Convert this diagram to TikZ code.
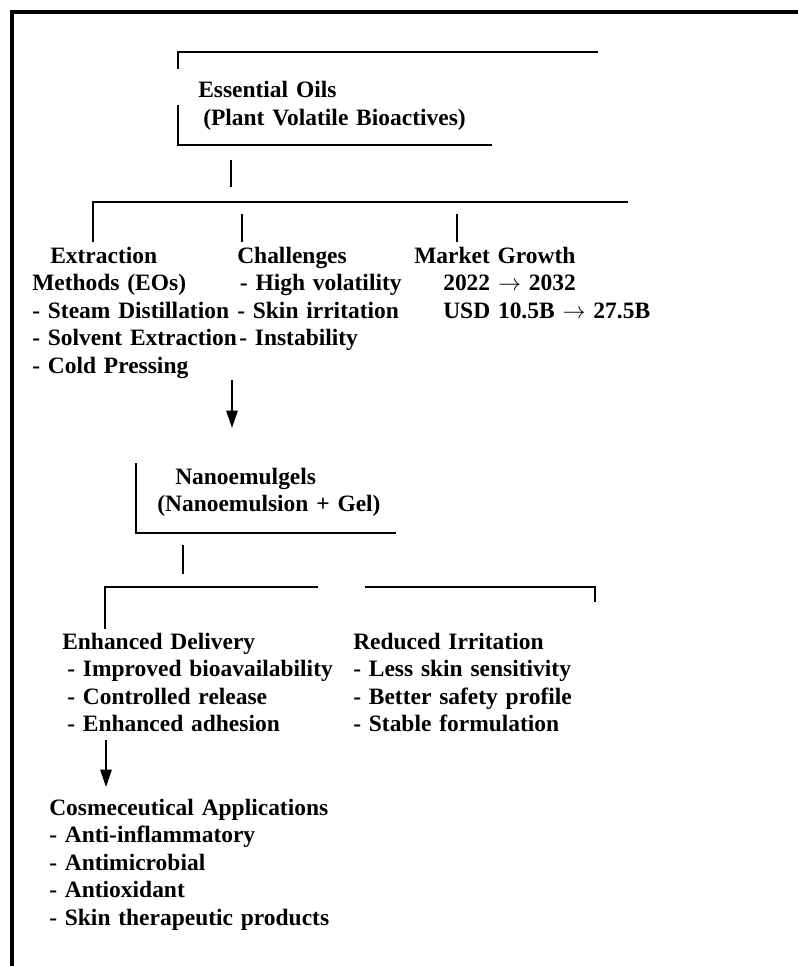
\documentclass[tikz,border=0pt]{standalone}
\usepackage{fontspec}
\setmainfont[WordSpace=0.8]{Liberation Serif}
\usetikzlibrary{arrows.meta}
\tikzset{
    txt/.style={font=\fontsize{17.6pt}{20.7pt}\selectfont\bfseries, inner sep=0pt, anchor=base west, align=left, text width=8cm},
    link/.style={line width=1.4pt},
    arrow/.style={-{Triangle[width=8.5pt,length=13pt]}, line width=1.4pt},
    frame/.style={line width=2.3pt}
}
\newcommand{\toarr}{ $\rightarrow$ }

\begin{document}
\begin{tikzpicture}[x=0.75pt, y=-0.75pt]
    \useasboundingbox (0,0) rectangle (798,966);
    \coordinate (frame-tr) at (798,12);
    \coordinate (frame-tl) at (12,12);
    \coordinate (frame-bl) at (12,966);
    \draw [frame] (frame-tr) -- (frame-tl) -- (frame-bl);

    \node [txt] (essoils) at (198,98) {Essential Oils\\\hspace*{3.75pt}(Plant Volatile Bioactives)};
    \node [txt] (extract) at (32,263) {\hspace*{13.5pt}Extraction\\Methods (EOs)\\- Steam Distillation\\- Solvent Extraction\\- Cold Pressing};
    \node [txt] (challenges) at (237,263) {Challenges\\\hspace*{2pt}- High volatility\\- Skin irritation\\\hspace*{1.5pt}- Instability};
    \node [txt] (market) at (414,263) {Market Growth\\\hspace*{21.75pt}2022\toarr2032\\\hspace*{21.75pt}USD 10.5B\toarr27.5B};
    \node [txt] (nanogel) at (157,484) {\hspace*{13.5pt}Nanoemulgels\\(Nanoemulsion + Gel)};
    \node [txt] (delivery) at (62,649) {Enhanced Delivery\\\hspace*{3.75pt}- Improved bioavailability\\\hspace*{3.75pt}- Controlled release\\\hspace*{3.75pt}- Enhanced adhesion};
    \node [txt] (irritation) at (353,649) {Reduced Irritation\\- Less skin sensitivity\\- Better safety profile\\- Stable formulation};
    \node [txt] (cosmetic) at (49,815) {Cosmeceutical Applications\\- Anti-inflammatory\\- Antimicrobial\\- Antioxidant\\- Skin therapeutic products};

    \coordinate (eo-tick) at (178,69);
    \coordinate (eo-tl) at (178,52);
    \coordinate (eo-tr) at (598,52);
    \coordinate (eo-side) at (178,105);
    \coordinate (eo-bl) at (178,145);
    \coordinate (eo-br) at (492,145);
    \draw [link] (eo-tick) -- (eo-tl) -- (eo-tr);
    \draw [link] (eo-side) -- (eo-bl) -- (eo-br);

    \coordinate (eo-stem-top) at (231,160);
    \coordinate (eo-stem-bot) at (231,187);
    \draw [link] (eo-stem-top) -- (eo-stem-bot);

    \coordinate (split-l) at (93,242);
    \coordinate (split-lc) at (93,202);
    \coordinate (split-r) at (628,202);
    \coordinate (chal-top) at (242,214);
    \coordinate (chal-bot) at (242,242);
    \coordinate (mkt-top) at (457,214);
    \coordinate (mkt-bot) at (457,242);
    \draw [link] (split-l) -- (split-lc) -- (split-r);
    \draw [link] (chal-top) -- (chal-bot);
    \draw [link] (mkt-top) -- (mkt-bot);

    \coordinate (to-nano-s) at (232,380);
    \coordinate (to-nano-e) at (232,428);
    \draw [arrow] (to-nano-s) -- (to-nano-e);

    \coordinate (ng-top) at (136,463);
    \coordinate (ng-bl) at (136,533);
    \coordinate (ng-br) at (396,533);
    \draw [link] (ng-top) -- (ng-bl) -- (ng-br);

    \coordinate (ng-stem-top) at (183,545);
    \coordinate (ng-stem-bot) at (183,574);
    \draw [link] (ng-stem-top) -- (ng-stem-bot);

    \coordinate (del-tick) at (105,629);
    \coordinate (del-corner) at (105,587);
    \coordinate (del-end) at (318,587);
    \coordinate (irr-start) at (365,587);
    \coordinate (irr-corner) at (595,587);
    \coordinate (irr-tick) at (595,602);
    \draw [link] (del-tick) -- (del-corner) -- (del-end);
    \draw [link] (irr-start) -- (irr-corner) -- (irr-tick);

    \coordinate (to-cos-s) at (106,740);
    \coordinate (to-cos-e) at (106,787);
    \draw [arrow] (to-cos-s) -- (to-cos-e);
\end{tikzpicture}
\end{document}
